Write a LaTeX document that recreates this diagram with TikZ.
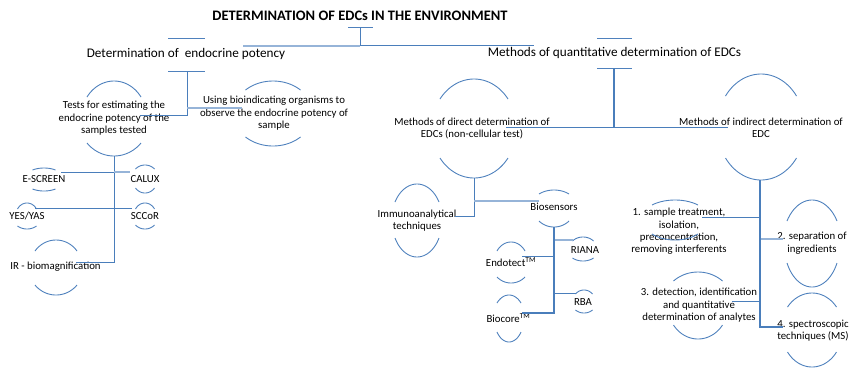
\documentclass[tikz,border=0pt]{standalone}
\usepackage{fontspec}
\setmainfont{Carlito}
\definecolor{arcblue}{RGB}{79,129,189}
\definecolor{linkblue}{RGB}{74,126,187}
\definecolor{lightlink}{RGB}{150,180,216}

% top and bottom arcs of an ellipse framing a label:
% #1 centre x, #2 half width, #3 top apex y, #4 top end y, #5 bottom end y, #6 bottom apex y
\newcommand\ringarcs[6]{%
  \pgfmathsetmacro\rcy{(#3+#6)/2}%
  \pgfmathsetmacro\rry{(#6-#3)/2}%
  \pgfmathsetmacro\rat{acos((\rcy-#4)/\rry)}%
  \pgfmathsetmacro\rxt{#2/sin(\rat)}%
  \pgfmathsetmacro\rab{acos((#5-\rcy)/\rry)}%
  \pgfmathsetmacro\rxb{#2/sin(\rab)}%
  \draw[arcline] plot[domain=-\rat:\rat,samples=30] ({#1+\rxt*sin(\x)},{\rcy-\rry*cos(\x)});%
  \draw[arcline] plot[domain=-\rab:\rab,samples=30] ({#1+\rxb*sin(\x)},{\rcy+\rry*cos(\x)});%
}

\begin{document}
\begin{tikzpicture}[x=1pt,y=-1pt,
  arcline/.style={draw=arcblue,line width=0.9pt},
  conn/.style={draw=linkblue,line width=1pt},
  connlight/.style={draw=lightlink,line width=1.4pt},
  titletext/.style={font=\fontsize{14.5}{16}\selectfont\bfseries,inner sep=0pt},
  bigtext/.style={font=\fontsize{13.2}{15}\selectfont,inner sep=0pt},
  smalltext/.style={font=\fontsize{10.8}{12.4}\selectfont,inner sep=0pt,align=center},
]
\useasboundingbox (0,0) rectangle (850,368);

% ---------- labels ----------
\node[titletext] (title) at (360,16) {DETERMINATION OF EDCs IN THE ENVIRONMENT};
\node[bigtext] (dep) at (186,54) {Determination of\ \ endocrine potency};
\node[bigtext] (quant) at (614.5,53) {Methods of quantitative determination of EDCs};

\node[smalltext] (tests) at (114,118.5) {Tests for estimating the\\endocrine potency of the\\samples tested};
\node[smalltext] (bioind) at (274,113.5) {Using bioindicating organisms to\\observe the endocrine potency of\\sample};
\node[smalltext] (direct) at (472,128.5) {Methods of direct determination of\\EDCs (non-cellular test)};
\node[smalltext] (indirect) at (761,127.5) {Methods of indirect determination of\\EDC};

\node[smalltext] (escreen) at (44,179) {E-SCREEN};
\node[smalltext] (calux) at (145,179) {CALUX};
\node[smalltext] (yes) at (27,216) {YES/YAS};
\node[smalltext] (sccor) at (145,216) {SCCoR};
\node[smalltext] (ir) at (55.5,267) {IR - biomagnification};

\node[smalltext] (immuno) at (417,220.5) {Immunoanalytical\\techniques};
\node[smalltext] (biosens) at (554,207) {Biosensors};
\node[smalltext] (endotect) at (511,262) {Endotect\textsuperscript{TM}};
\node[smalltext] (biocore) at (508.5,318) {Biocore\textsuperscript{TM}};
\node[smalltext] (riana) at (585,250) {RIANA};
\node[smalltext] (rba) at (583,302) {RBA};

\node[smalltext] (step1) at (679,231.5) {1. sample treatment,\\isolation,\\preconcentration,\\removing interferents};
\node[smalltext] (step2) at (812,243) {2. separation of\\ingredients};
\node[smalltext] (step3) at (699,305.5) {3. detection, identification\\and quantitative\\determination of analytes};
\node[smalltext] (step4) at (813,330.5) {4. spectroscopic\\techniques (MS)};

% ---------- frames ----------
\draw[arcline] (348,27) -- (373,27);
\draw[arcline] (168,38) -- (205,38);
\draw[arcline] (168,71) -- (205,71);
\draw[arcline] (597,38) -- (632,38);
\draw[arcline] (597,68) -- (632,68);

\ringarcs{114}{27}{81}{97}{143}{156}
\ringarcs{273}{27.5}{81}{90}{137}{146}
\ringarcs{474}{34}{79}{99}{158}{178}
\ringarcs{761}{35.5}{74}{96}{158}{180}
\ringarcs{44}{11.5}{168}{170}{189}{191}
\ringarcs{145}{9.5}{165}{169}{188}{193}
\ringarcs{27}{9.5}{203}{209}{226}{229}
\ringarcs{145}{9.5}{203}{209}{225}{229}
\ringarcs{56}{21}{240}{251}{285}{295}
\ringarcs{417}{22}{184}{202}{238}{257}
\ringarcs{554}{15}{190}{194}{221}{227}
\ringarcs{511}{14}{242}{251}{277}{283}
\ringarcs{509}{12}{295}{303}{332}{342}
\ringarcs{583}{10.5}{237}{241}{258}{261}
\ringarcs{584}{8.5}{290}{294}{310}{313}
\ringarcs{675}{23}{200}{205}{234}{240}
\ringarcs{812}{25}{200}{221}{263}{287}
\ringarcs{698}{24.5}{272}{281}{325}{339}
\ringarcs{812}{24.5}{293}{307}{352}{367}

% ---------- connector end points ----------
\coordinate (title-foot) at (360,27);
\coordinate (title-hub) at (360,45);
\coordinate (quant-in) at (534,45);
\coordinate (dep-in) at (243,46);
\coordinate (title-hub2) at (360,46);

\coordinate (dep-foot) at (187,71);
\coordinate (tests-in) at (140,115);
\coordinate (dep-mid) at (187,108);
\coordinate (bioind-in) at (242,108);

\coordinate (quant-foot) at (614,68);
\coordinate (quant-hub) at (614,127);
\coordinate (direct-in) at (506,127);
\coordinate (indirect-in) at (728,127);

\coordinate (tests-foot) at (114,156);
\coordinate (escreen-in) at (61,172);
\coordinate (tests-b1) at (114,172);
\coordinate (calux-in) at (130,172);
\coordinate (yes-in) at (35,208);
\coordinate (sccor-in) at (132,208);
\coordinate (ir-in) at (76,262);

\coordinate (direct-foot) at (474,178);
\coordinate (immuno-in) at (455,216);
\coordinate (direct-b1) at (474,201);
\coordinate (biosens-in) at (539,201);

\coordinate (biosens-foot) at (554,227);
\coordinate (biosens-b1) at (554,240);
\coordinate (riana-in) at (573,240);
\coordinate (endotect-in) at (522,256);
\coordinate (biosens-b3) at (554,293);
\coordinate (rba-in) at (576,293);
\coordinate (biocore-in) at (522,313);

\coordinate (indirect-foot) at (760,180);
\coordinate (step1-in) at (702,217);
\coordinate (indirect-b2) at (760,239);
\coordinate (step2-in) at (783,239);
\coordinate (step3-in) at (732,301);
\coordinate (indirect-b4) at (760,327);
\coordinate (step4-in) at (783,327);

% ---------- connectors ----------
\draw[conn] (title-foot) -- (title-hub) -- (quant-in);
\draw[connlight] (title-hub2) -- (dep-in);

\draw[conn] (dep-foot) |- (tests-in);
\draw[connlight] (dep-mid) -- (bioind-in);

\draw[conn,line width=1.3pt] (quant-foot) -- (quant-hub);
\draw[conn] (direct-in) -- (indirect-in);

\draw[conn] (tests-foot) |- (ir-in);
\draw[conn] (escreen-in) -- (tests-b1);
\draw[connlight] (tests-b1) -- (calux-in);
\draw[conn] (yes-in) -- (sccor-in);

\draw[conn] (direct-foot) |- (immuno-in);
\draw[connlight] (direct-b1) -- (biosens-in);

\draw[conn,line width=1.3pt] (biosens-foot) |- (biocore-in);
\draw[connlight] (biosens-b1) -- (riana-in);
\draw[conn] (endotect-in) -| (biosens-foot);
\draw[conn] (biosens-b3) -- (rba-in);

\draw[conn,line width=1.3pt] (indirect-foot) |- (step4-in);
\draw[conn] (step1-in) -| (indirect-foot);
\draw[connlight] (indirect-b2) -- (step2-in);
\draw[conn] (step3-in) -| (indirect-foot);
\end{tikzpicture}
\end{document}
